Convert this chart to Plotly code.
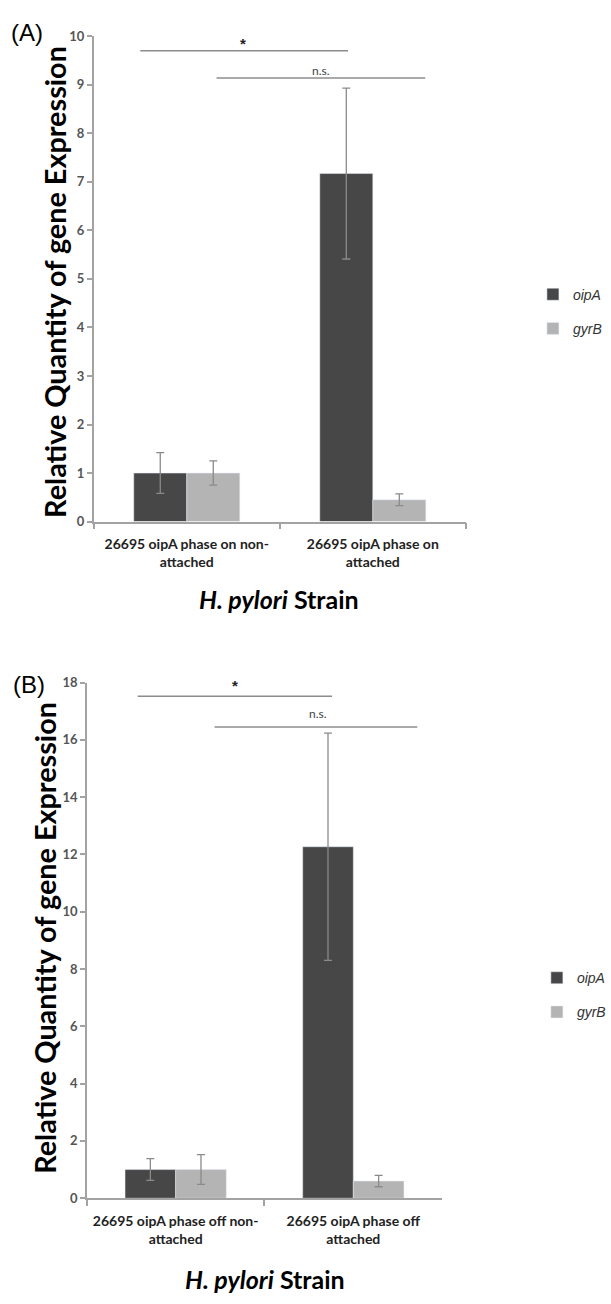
import plotly.graph_objects as go

W, H = 611, 1304

# ---------------- data ----------------
categories_a = ["26695 oipA phase on non-<br>attached", "26695 oipA phase on<br>attached"]
categories_b = ["26695 oipA phase off non-<br>attached", "26695 oipA phase off<br>attached"]
series_names = ["<i>oipA</i>", "<i>gyrB</i>"]

oipA_a = [1.0, 7.17]
oipA_a_err = [0.42, 1.76]
gyrB_a = [1.0, 0.45]
gyrB_a_err = [0.25, 0.12]

oipA_b = [1.0, 12.27]
oipA_b_err = [0.38, 3.97]
gyrB_b = [1.0, 0.60]
gyrB_b_err = [0.52, 0.20]

yticks_a = list(range(0, 11, 1))
yticks_b = list(range(0, 19, 2))

# ---------------- style ----------------
DARK = "#474747"
LIGHT = "#b4b4b4"
AXIS = "#a3a3a3"
ERR = "#8a8a8a"
FONT = "Lato"


def px(xp):
    return xp / W


def py(yp):
    return 1 - yp / H


def err(arr):
    return dict(type="data", array=arr, color=ERR, thickness=1.3, width=4)


fig = go.Figure()
fig.add_trace(go.Bar(x=categories_a, y=oipA_a, name=series_names[0], marker_color=DARK,
                     error_y=err(oipA_a_err), xaxis="x", yaxis="y",
                     legend="legend", legendgroup="a1"))
fig.add_trace(go.Bar(x=categories_a, y=gyrB_a, name=series_names[1], marker_color=LIGHT,
                     error_y=err(gyrB_a_err), xaxis="x", yaxis="y",
                     legend="legend", legendgroup="a2"))
fig.add_trace(go.Bar(x=categories_b, y=oipA_b, name=series_names[0], marker_color=DARK,
                     error_y=err(oipA_b_err), xaxis="x2", yaxis="y2",
                     legend="legend2", legendgroup="b1"))
fig.add_trace(go.Bar(x=categories_b, y=gyrB_b, name=series_names[1], marker_color=LIGHT,
                     error_y=err(gyrB_b_err), xaxis="x2", yaxis="y2",
                     legend="legend2", legendgroup="b2"))

xcommon = dict(type="category", showline=True, linecolor=AXIS, linewidth=1.5,
               ticks="outside", tickson="boundaries", ticklen=6, tickcolor=AXIS,
               tickwidth=1.5, showgrid=False, zeroline=False, range=[-0.5, 1.5],
               tickfont=dict(family=FONT, size=14, color="#222222", weight="bold"),
               ticklabelstandoff=9)
ycommon = dict(showline=True, linecolor=AXIS, linewidth=1.5, ticks="outside",
               ticklen=5, tickcolor=AXIS, tickwidth=1.5, showgrid=False,
               zeroline=False,
               tickfont=dict(family=FONT, size=13, color="#555555", weight="bold"))

legcommon = dict(font=dict(family="Liberation Sans", size=14, color="#333333"),
                 traceorder="grouped", tracegroupgap=13, bgcolor="rgba(0,0,0,0)",
                 xanchor="left", yanchor="top", itemclick=False, itemwidth=30)

fig.update_layout(
    width=W, height=H,
    margin=dict(l=0, r=0, t=0, b=0),
    paper_bgcolor="white", plot_bgcolor="white",
    barmode="group", bargap=0.43, bargroupgap=0,
    xaxis=dict(domain=[px(95), px(472)], anchor="y", **xcommon),
    yaxis=dict(domain=[py(520), py(28.5)], anchor="x", range=[0, 10],
               tickvals=yticks_a, **ycommon),
    xaxis2=dict(domain=[px(88), px(448)], anchor="y2", **xcommon),
    yaxis2=dict(domain=[py(1205), py(683)], anchor="x2", range=[0, 18],
                tickvals=yticks_b, **ycommon),
    legend=dict(x=px(540), y=py(274), **legcommon),
    legend2=dict(x=px(544), y=py(966), **legcommon),
    showlegend=True,
)

LINE = dict(color="#8c8c8c", width=1.5)
# significance brackets: line in category-index/data coordinates, label in pixels
sig_a = [(-0.25, 0.867, 9.70, "*", 246, 36), (0.16, 1.282, 9.14, "n.s.", 325, 63)]
sig_b = [(-0.214, 0.88, 17.52, "*", 238, 686), (0.219, 1.36, 16.45, "n.s.", 322, 714)]
for (x0, x1, yv, txt, tx, ty), (xr, yr) in [(s, ("x", "y")) for s in sig_a] + [(s, ("x2", "y2")) for s in sig_b]:
    fig.add_shape(type="line", xref=xr, yref=yr, x0=x0, x1=x1, y0=yv, y1=yv, line=LINE)
    if txt == "*":
        f = dict(family="Liberation Sans", size=15, color="#222222", weight="bold")
    else:
        f = dict(family=FONT, size=12, color="#444444")
    fig.add_annotation(xref="paper", yref="paper", x=px(tx), y=py(ty), text=txt, showarrow=False,
                       font=f, xanchor="center", yanchor="middle")

# panel labels
fig.add_annotation(xref="paper", yref="paper", x=px(9), y=py(25), text="(A)", showarrow=False,
                   font=dict(family="Liberation Sans", size=24, color="black"),
                   xanchor="left", yanchor="middle")
fig.add_annotation(xref="paper", yref="paper", x=px(11), y=py(685), text="(B)", showarrow=False,
                   font=dict(family="Liberation Sans", size=24, color="black"),
                   xanchor="left", yanchor="middle")

# axis titles
ytitle = "<b>Relative Quantity of gene Expression</b>"
fig.add_annotation(xref="paper", yref="paper", x=px(55), y=py(277), text=ytitle, showarrow=False,
                   textangle=-90, font=dict(family=FONT, size=28.8, color="black", weight="bold"),
                   xanchor="center", yanchor="middle")
fig.add_annotation(xref="paper", yref="paper", x=px(46), y=py(941), text=ytitle, showarrow=False,
                   textangle=-90, font=dict(family=FONT, size=28.8, color="black", weight="bold"),
                   xanchor="center", yanchor="middle")
xtitle = "<b><i>H. pylori</i> Strain</b>"
fig.add_annotation(xref="paper", yref="paper", x=px(283), y=py(598), text=xtitle, showarrow=False,
                   font=dict(family=FONT, size=25, color="black", weight="bold"),
                   xanchor="center", yanchor="middle")
fig.add_annotation(xref="paper", yref="paper", x=px(269), y=py(1287), text=xtitle, showarrow=False,
                   font=dict(family=FONT, size=25, color="black", weight="bold"),
                   xanchor="center", yanchor="middle")

fig.write_html("out.html")
